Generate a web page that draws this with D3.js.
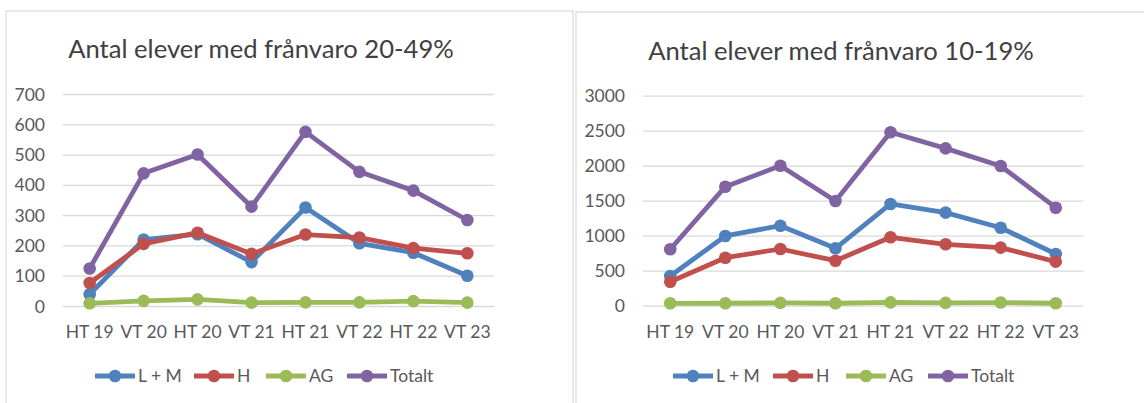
<!DOCTYPE html>
<html>
<head>
<meta charset="utf-8">
<script src="https://cdn.jsdelivr.net/npm/d3@7"></script>
<style>
  body { margin: 0; background: #fff; }
  svg { display: block; }
  text { font-family: Lato, "Open Sans", sans-serif; fill: #595959; }
</style>
</head>
<body>
<svg id="chart"></svg>
<script>
const periods = ["HT 19", "VT 20", "HT 20", "VT 21", "HT 21", "VT 22", "HT 22", "VT 23"];
const seriesNames = ["L + M", "H", "AG", "Totalt"];
const seriesColors = ["#4F81BD", "#C0504D", "#9BBB59", "#8064A2"];

// Antal elever med frånvaro 20-49%
const lm2049 = [39, 219, 237, 145, 325, 207, 176, 100];
const h2049 = [76, 205, 242, 172, 236, 226, 191, 174];
const ag2049 = [9, 17, 22, 11, 12, 12, 16, 11];
const tot2049 = [124, 438, 500, 328, 575, 443, 381, 284];
const ticks2049 = [0, 100, 200, 300, 400, 500, 600, 700];

// Antal elever med frånvaro 10-19%
const lm1019 = [424, 996, 1143, 820, 1453, 1329, 1114, 739];
const h1019 = [343, 686, 810, 643, 977, 877, 829, 629];
const ag1019 = [34, 35, 40, 35, 48, 40, 45, 35];
const tot1019 = [806, 1700, 2000, 1496, 2477, 2248, 1996, 1400];
const ticks1019 = [0, 500, 1000, 1500, 2000, 2500, 3000];

const W = 1144, H = 403;
const svg = d3.select("#chart").attr("width", W).attr("height", H);

function drawPanel(cfg) {
  const g = svg.append("g");

  // ram runt diagrammet
  g.append("rect")
    .attr("x", cfg.box[0])
    .attr("y", cfg.box[1])
    .attr("width", cfg.box[2])
    .attr("height", cfg.box[3])
    .attr("fill", "#fff")
    .attr("stroke", "#d9d9d9")
    .attr("stroke-width", 1.2);

  g.append("text")
    .attr("x", cfg.titleX)
    .attr("y", cfg.titleY)
    .attr("text-anchor", "middle")
    .style("font-size", "25.6px")
    .style("fill", "#404040")
    .text(cfg.title);

  const x = d3.scaleBand()
    .domain(periods)
    .range(cfg.xRange);

  const y = d3.scaleLinear()
    .domain([0, d3.max(cfg.ticks)])
    .range(cfg.yRange);

  // stödlinjer
  g.append("g")
    .attr("transform", `translate(${cfg.xRange[0]},0)`)
    .call(d3.axisLeft(y).tickValues(cfg.ticks).tickSize(-(cfg.xRange[1] - cfg.xRange[0])).tickFormat(""))
    .call(a => a.select(".domain").remove())
    .call(a => a.selectAll("line").attr("stroke", "#d9d9d9").attr("stroke-width", 1.3));

  // y-etiketter
  g.append("g")
    .attr("transform", `translate(${cfg.yLabelX},0)`)
    .call(d3.axisLeft(y).tickValues(cfg.ticks).tickSize(0).tickPadding(0).tickFormat(d3.format("d")))
    .call(a => a.select(".domain").remove())
    .call(a => a.selectAll("text").style("font-size", "17.5px").style("fill", "#595959").attr("dy", "0.35em"));

  // x-etiketter
  g.append("g")
    .attr("transform", `translate(0,${cfg.xLabelY})`)
    .call(d3.axisBottom(x).tickSize(0).tickPadding(0))
    .call(a => a.select(".domain").remove())
    .call(a => a.selectAll("text").style("font-size", "17.5px").style("fill", "#595959").attr("dy", "0.35em"));

  const cx = d => x(d) + x.bandwidth() / 2;

  cfg.series.forEach((vals, i) => {
    const pts = periods.map((p, k) => [cx(p), y(vals[k])]);
    g.append("path")
      .datum(pts)
      .attr("fill", "none")
      .attr("stroke", seriesColors[i])
      .attr("stroke-width", 4.8)
      .attr("stroke-linejoin", "round")
      .attr("d", d3.line());
    g.selectAll(null)
      .data(pts)
      .enter()
      .append("circle")
      .attr("cx", d => d[0])
      .attr("cy", d => d[1])
      .attr("r", 6.3)
      .attr("fill", seriesColors[i]);
  });

  // legend
  const leg = g.append("g").attr("transform", `translate(0,${cfg.legendY})`);
  seriesNames.forEach((name, i) => {
    const lx = cfg.legendX[i];
    leg.append("line")
      .attr("x1", lx).attr("x2", lx + 40)
      .attr("y1", 0).attr("y2", 0)
      .attr("stroke", seriesColors[i])
      .attr("stroke-width", 4.8);
    leg.append("circle")
      .attr("cx", lx + 20).attr("cy", 0).attr("r", 6.3)
      .attr("fill", seriesColors[i]);
    leg.append("text")
      .attr("x", lx + 43)
      .attr("y", 0)
      .attr("dy", "0.35em")
      .style("font-size", "17.5px")
      .text(name);
  });
}

drawPanel({
  box: [6, 11, 567, 420],
  title: "Antal elever med frånvaro 20-49%",
  titleX: 261, titleY: 58,
  xRange: [62.7, 494.3],
  yRange: [306, 94],
  ticks: ticks2049,
  yLabelX: 45,
  xLabelY: 332,
  series: [lm2049, h2049, ag2049, tot2049],
  legendY: 376,
  legendX: [95, 194, 266, 347]
});

drawPanel({
  box: [576, 12, 600, 420],
  title: "Antal elever med frånvaro 10-19%",
  titleX: 841, titleY: 60,
  xRange: [642.7, 1083.3],
  yRange: [305.7, 95.7],
  ticks: ticks1019,
  yLabelX: 625,
  xLabelY: 332,
  series: [lm1019, h1019, ag1019, tot1019],
  legendY: 376,
  legendX: [673, 773, 846, 928]
});
</script>
</body>
</html>
